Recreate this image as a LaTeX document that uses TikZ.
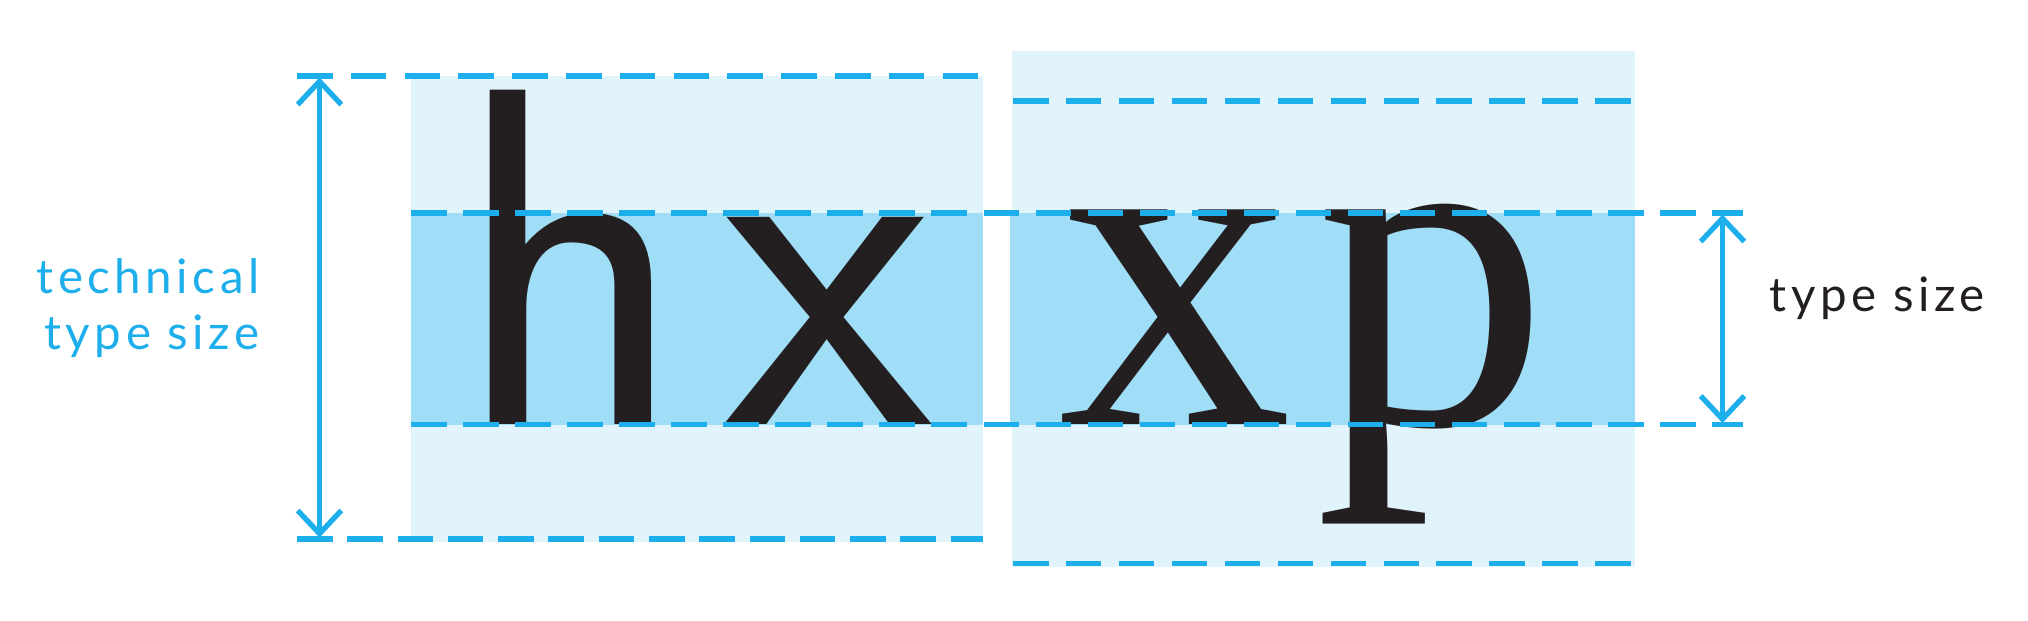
\documentclass[tikz,border=0pt]{standalone}
\usepackage{fontspec}
\usetikzlibrary{arrows.meta}
\newfontfamily\serifglyph{Liberation Serif}
\newfontfamily\labelfont{Lato}[LetterSpace=9.5]
\definecolor{guideblue}{RGB}{29,174,236}
\definecolor{paleblue}{RGB}{225,243,251}
\definecolor{bandblue}{RGB}{160,221,247}
\definecolor{glyphink}{RGB}{35,31,32}
\tikzset{
  guide/.style={draw=guideblue,line width=1.5pt,dash pattern=on 10.1pt off #1},
  guide/.default=4.7pt,
  dim/.style={draw=guideblue,line width=1.5pt,
    {Straight Barb[length=6.6pt,width=12.4pt]}-{Straight Barb[length=6.6pt,width=12.4pt]}},
  glyph/.style={inner sep=0pt,anchor=base west,text=glyphink},
  lbl/.style={inner sep=0pt,font=\labelfont\fontsize{13.5}{15.9}\selectfont},
}

\begin{document}
\begin{tikzpicture}[x=0.01cm,y=-0.01cm]
\useasboundingbox (0,0) rectangle (2028,620);
% pale body boxes
\fill[paleblue] (411,76) rectangle (983,542);
\fill[paleblue] (1012,51) rectangle (1635,567);
% x-height band
\fill[bandblue] (411,213) rectangle (983,424.6);
\fill[bandblue] (1010,213) rectangle (1635,424.6);
% sample glyphs
\node[glyph,font=\sffamily\fontsize{137}{137}\selectfont] (hx) at (454,424) {h\kern10.5pt x};
\node[glyph,font=\serifglyph\fontsize{133}{133}\selectfont] (xp) at (1058,424) {x\kern6.5pt p};
% guide lines
\draw[guide=5.2pt] (297,76) -- (983,76);
\draw[guide=4.2pt] (297,539) -- (983,539);
\draw[guide=4.95pt] (1013,101) -- (1635,101);
\draw[guide=4.95pt] (1013,563.5) -- (1635,563.5);
\draw[guide] (411,213) -- (1743,213);
\draw[guide] (411,424.6) -- (1743,424.6);
% dimension arrows
\coordinate (techTop) at (319.5,77.5);
\coordinate (techBot) at (319.5,537.5);
\coordinate (sizeTop) at (1722.5,214.5);
\coordinate (sizeBot) at (1722.5,423);
\draw[dim] (techTop) -- (techBot);
\draw[dim] (sizeTop) -- (sizeBot);
% labels
\node[lbl,text=guideblue,align=right,anchor=base east] (techlbl) at (260,349) {technical\\type size};
\node[lbl,text=glyphink,anchor=base west] (sizelbl) at (1769,311) {type size};
\end{tikzpicture}
\end{document}
